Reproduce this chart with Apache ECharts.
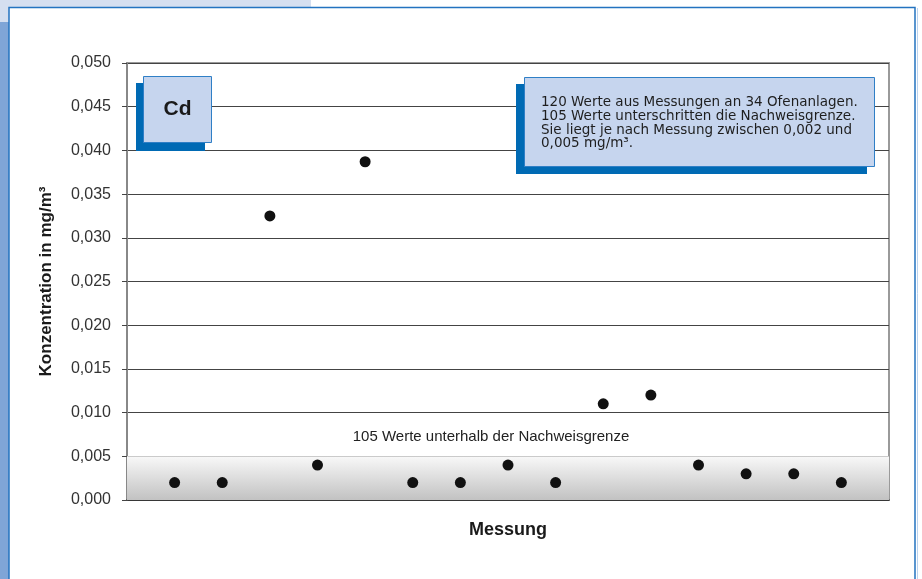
<!DOCTYPE html>
<html>
<head>
<meta charset="utf-8">
<script src="https://cdn.jsdelivr.net/npm/echarts@6/dist/echarts.min.js"></script>
<style>
html,body{margin:0;padding:0;background:#fff;}
#c{width:922px;height:579px;}
</style>
</head>
<body>
<div id="c"></div>
<script>
// Data
const messungIndex = [1, 2, 3, 4, 5, 6, 7, 8, 9, 10, 11, 12, 13, 14, 15];
const cdValues = [0.002, 0.002, 0.0325, 0.004, 0.0387, 0.002, 0.002, 0.004, 0.002, 0.011, 0.012, 0.004, 0.003, 0.003, 0.002];
const nachweisgrenze = [0, 0.005];
const yTicks = [0, 0.005, 0.01, 0.015, 0.02, 0.025, 0.03, 0.035, 0.04, 0.045, 0.05];
const titleLabel = 'Cd';
const infoLines = [
  '120 Werte aus Messungen an 34 Ofenanlagen.',
  '105 Werte unterschritten die Nachweisgrenze.',
  'Sie liegt je nach Messung zwischen 0,002 und',
  '0,005 mg/m³.'
];
const bandLabel = '105 Werte unterhalb der Nachweisgrenze';
const yAxisName = 'Konzentration in mg/m³';
const xAxisName = 'Messung';

const FONT = '"Liberation Sans", Arial, Helvetica, sans-serif';
const chart = echarts.init(document.getElementById('c'), null, {renderer: 'canvas'});

const option = {
  backgroundColor: '#ffffff',
  animation: false,
  grid: {
    left: 127, top: 63, right: 33, bottom: 79,
    show: true, borderColor: '#9a9a9a', borderWidth: 2, backgroundColor: 'transparent'
  },
  xAxis: {
    type: 'value', min: 0, max: messungIndex.length + 1,
    name: xAxisName, nameLocation: 'middle', nameGap: 21,
    nameTextStyle: {fontFamily: FONT, fontSize: 18, fontWeight: 'bold', color: '#1a1a1a'},
    axisLine: {show: true, lineStyle: {color: '#333', width: 1.5}},
    axisTick: {show: false}, axisLabel: {show: false}, splitLine: {show: false}
  },
  yAxis: {
    type: 'value', min: yTicks[0], max: yTicks[yTicks.length - 1], interval: 0.005,
    name: yAxisName, nameLocation: 'middle', nameGap: 72, nameRotate: 90,
    nameTextStyle: {fontFamily: FONT, fontSize: 17, fontWeight: 'bold', color: '#1a1a1a'},
    axisLine: {show: true, lineStyle: {color: '#888', width: 2}},
    axisTick: {show: true, length: 5, lineStyle: {color: '#444', width: 1}},
    axisLabel: {
      margin: 16, fontFamily: FONT, fontSize: 16, color: '#333',
      formatter: v => v.toFixed(3).replace('.', ',')
    },
    splitLine: {show: true, lineStyle: {color: '#444', width: 1}}
  },
  series: [{
    type: 'scatter',
    data: messungIndex.map((x, i) => [x, cdValues[i]]),
    symbol: 'circle', symbolSize: 11,
    itemStyle: {color: '#111111', opacity: 1},
    z: 5,
    markArea: {
      silent: true,
      itemStyle: {
        color: {type: 'linear', x: 0, y: 0, x2: 0, y2: 1,
          colorStops: [{offset: 0, color: '#f8f8f8'}, {offset: 1, color: '#c2c2c2'}]}
      },
      data: [[{yAxis: nachweisgrenze[0]}, {yAxis: nachweisgrenze[1]}]]
    }
  }],
  graphic: [
    // page decoration
    {type: 'rect', z: -10, shape: {x: 0, y: 0, width: 311, height: 8}, style: {fill: '#d5dff0'}},
    {type: 'rect', z: -10, shape: {x: 0, y: 0, width: 9, height: 22}, style: {fill: '#d5dff0'}},
    {type: 'rect', z: -10, shape: {x: 0, y: 22, width: 9, height: 557}, style: {fill: '#7fa5d7'}},
    {type: 'rect', z: -10, shape: {x: 9, y: 7.5, width: 906, height: 590}, style: {fill: 'none', stroke: '#2373c0', lineWidth: 1.5}},
    {type: 'line', z: -10, shape: {x1: 917.5, y1: 8, x2: 917.5, y2: 579}, style: {stroke: '#bcd3ee', lineWidth: 1}},
    // Cd box
    {type: 'rect', z: 50, shape: {x: 136, y: 83, width: 69, height: 68}, style: {fill: '#006ab4'}},
    {type: 'rect', z: 51, shape: {x: 143.5, y: 76.5, width: 68, height: 66}, style: {fill: '#c6d5ee', stroke: '#2f7fc6', lineWidth: 1}},
    {type: 'text', z: 52, x: 177.5, y: 109, style: {text: titleLabel, fontFamily: FONT, fontSize: 21, fontWeight: 'bold', fill: '#1a1a1a', align: 'center', verticalAlign: 'middle'}},
    // info box
    {type: 'rect', z: 50, shape: {x: 516, y: 84, width: 351, height: 90}, style: {fill: '#006ab4'}},
    {type: 'rect', z: 51, shape: {x: 524.5, y: 77.5, width: 350, height: 89}, style: {fill: '#c6d5ee', stroke: '#2f7fc6', lineWidth: 1}},
    {type: 'text', z: 52, x: 541, y: 96, style: {text: infoLines.join('\n'), fontFamily: '"DejaVu Sans", sans-serif', fontSize: 13.5, lineHeight: 13.7, fill: '#1e1e1e', align: 'left', verticalAlign: 'top'}},
    // band label
    {type: 'text', z: 52, x: 491, y: 437, style: {text: bandLabel, fontFamily: FONT, fontSize: 15, fill: '#222', align: 'center', verticalAlign: 'middle'}}
  ]
};
chart.setOption(option);
</script>
</body>
</html>
